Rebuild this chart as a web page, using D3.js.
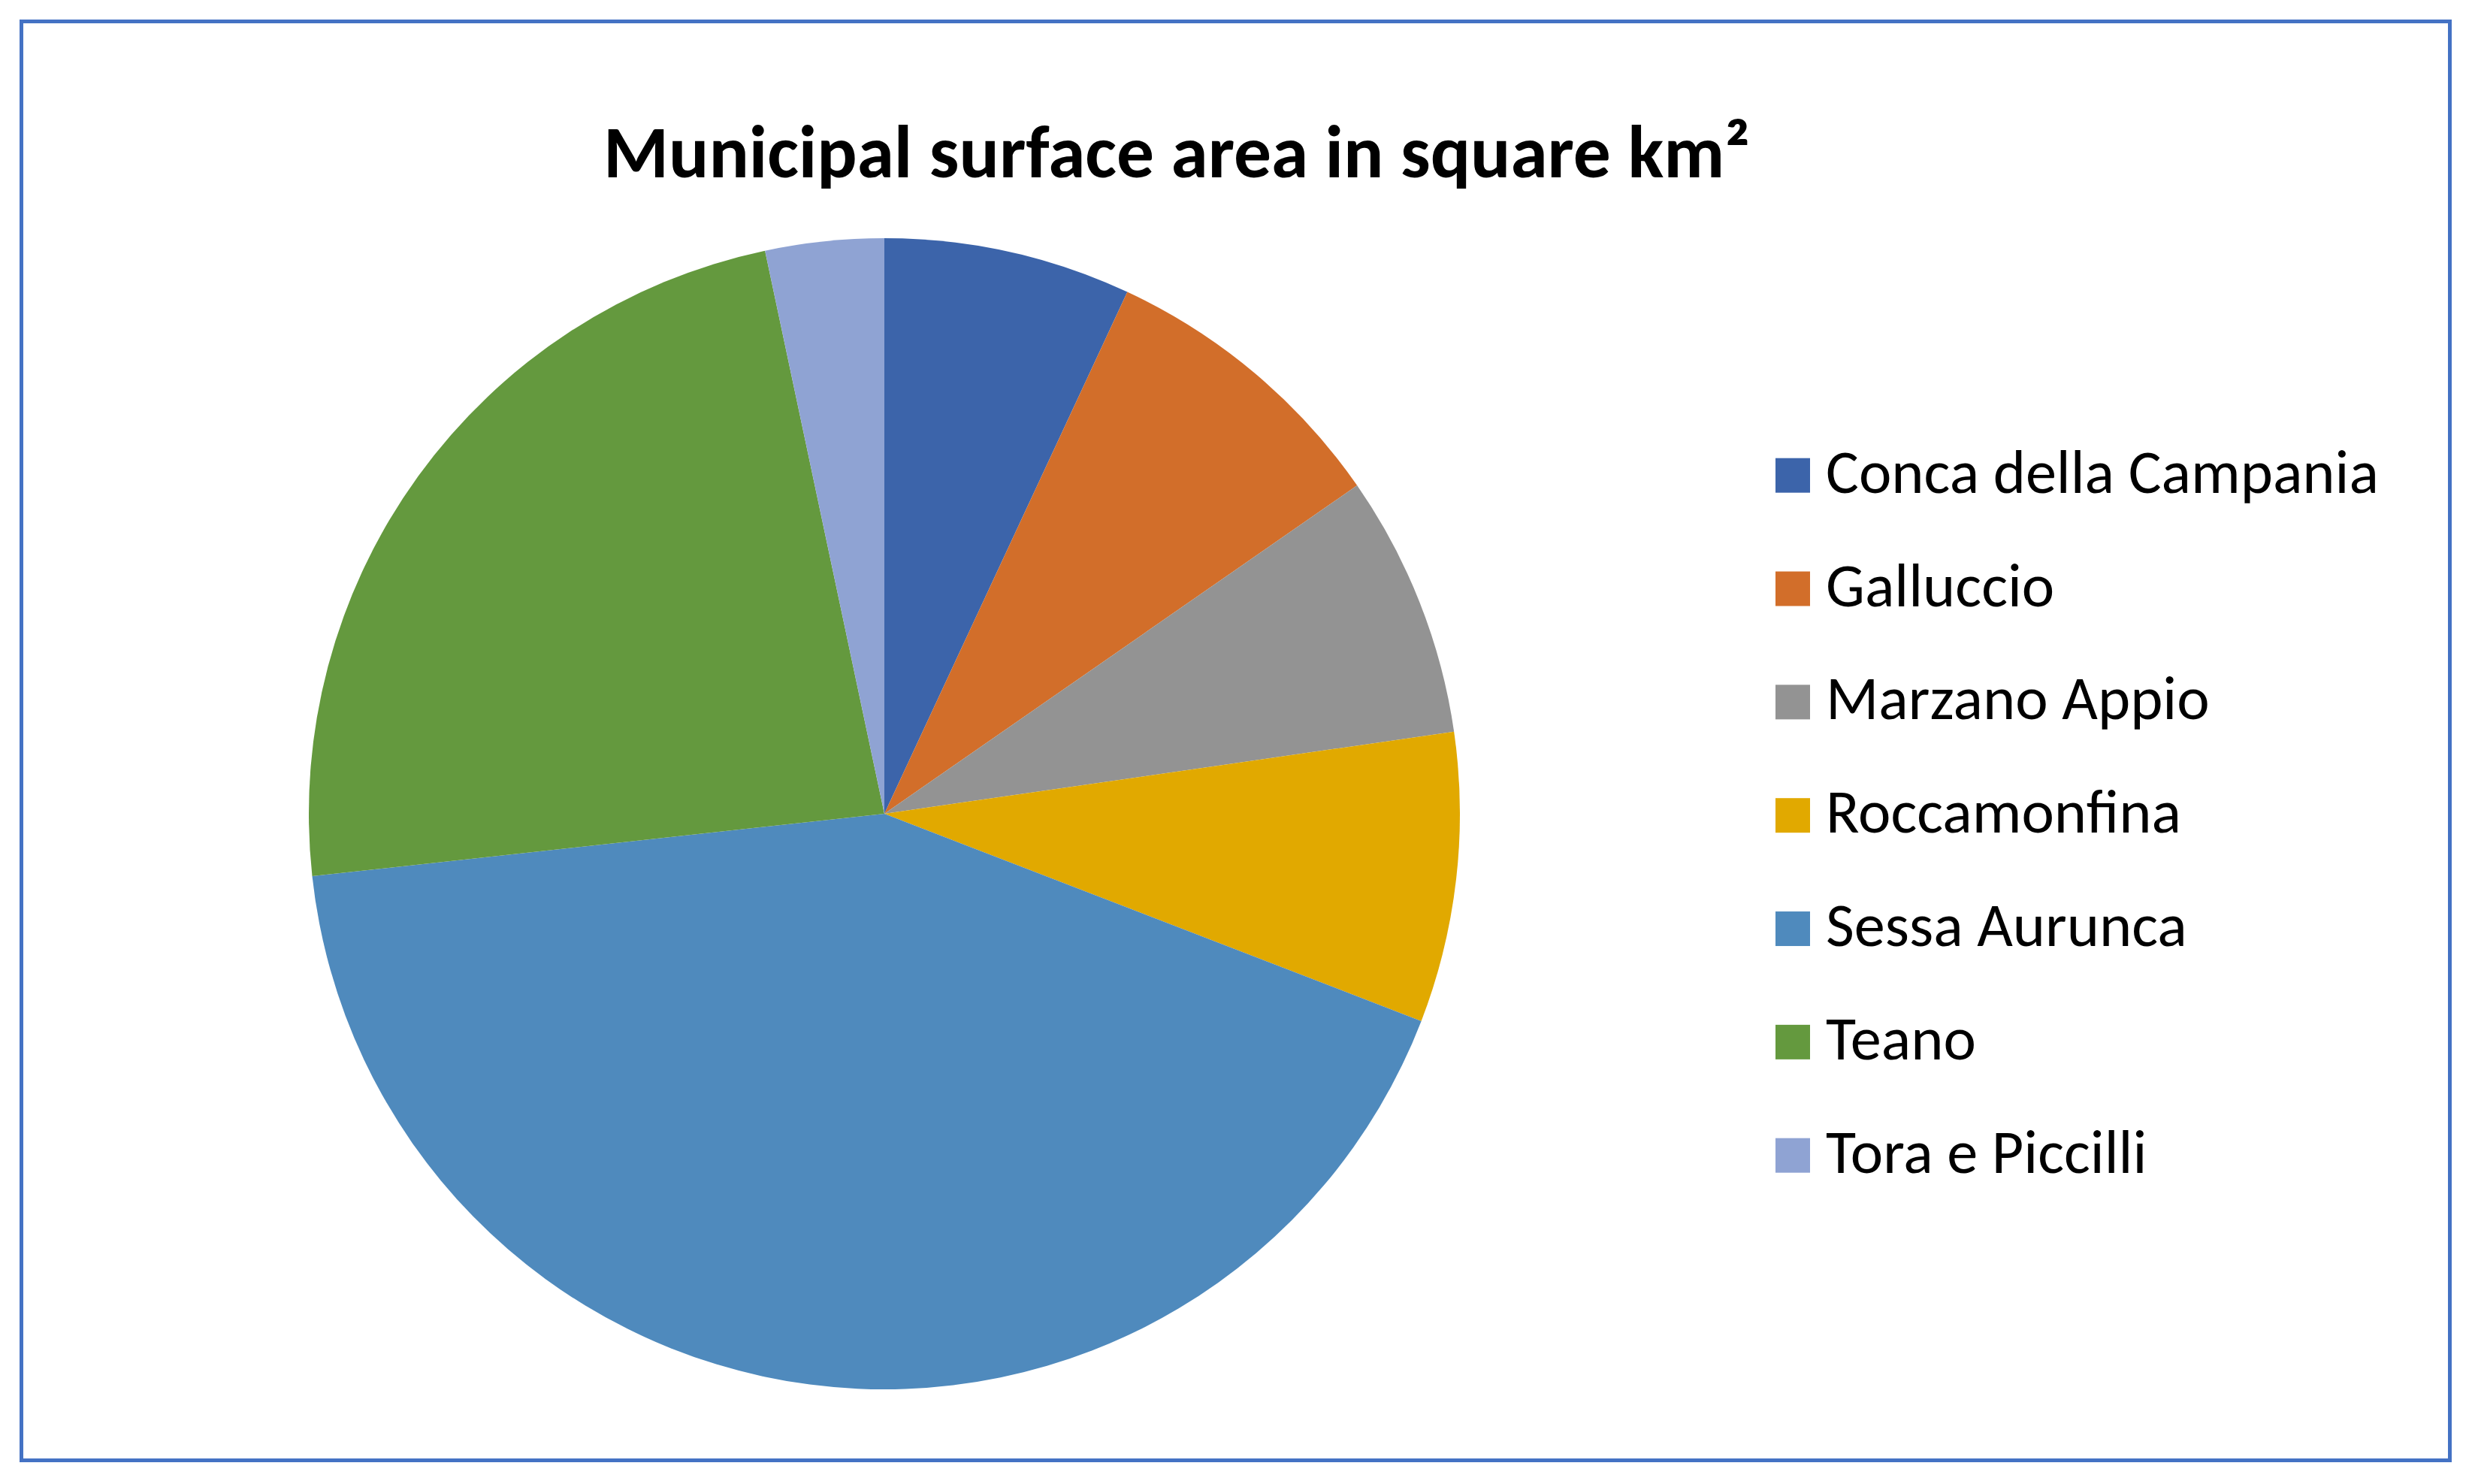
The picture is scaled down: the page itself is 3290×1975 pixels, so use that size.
<!DOCTYPE html>
<html>
<head>
<meta charset="utf-8">
<style>
  body { margin: 0; background: #fff; }
  svg text { font-family: Carlito, Calibri, Lato, "Open Sans", sans-serif; fill: #000; }
</style>
</head>
<body>
<svg id="chart" width="3290" height="1975"></svg>
<script src="https://cdn.jsdelivr.net/npm/d3@7"></script>
<script>
// municipal areas, km²
var towns = ["Conca della Campania", "Galluccio", "Marzano Appio", "Roccamonfina", "Sessa Aurunca", "Teano", "Tora e Piccilli"];
var areas = [26.5, 32.1, 28.2, 31.1, 162.0, 89.4, 12.7];
var colours = ["#3c64aa", "#d26e2a", "#939393", "#e1a900", "#4f8abd", "#64993e", "#8fa3d3"];
var title = "Municipal surface area in square km\u00b2";

var svg = d3.select("#chart");

// chart frame
svg.append("rect")
  .attr("x", 28.5).attr("y", 28.5)
  .attr("width", 3232).attr("height", 1915)
  .attr("fill", "#fff")
  .attr("stroke", "#4472c4")
  .attr("stroke-width", 5);

// title, sized so it spans the same width as the original
var t = svg.append("text")
  .attr("x", 803).attr("y", 236)
  .attr("font-weight", "bold")
  .attr("font-size", 96)
  .text(title);
var tw = t.node().getComputedTextLength();
t.attr("font-size", 96 * 1526 / tw);

// pie
var cx = 1177, cy = 1083, r = 766;
var pie = d3.pie().sort(null).value(function(d) { return d; });
var arc = d3.arc().innerRadius(0).outerRadius(r);
var colour = d3.scaleOrdinal().domain(towns).range(colours);

svg.append("g")
  .attr("transform", "translate(" + cx + "," + cy + ")")
  .selectAll("path")
  .data(pie(areas))
  .join("path")
  .attr("d", arc)
  .attr("fill", function(d, i) { return colour(towns[i]); });

// legend
var legY = d3.scalePoint().domain(towns).range([655.7, 1560.7]);
var leg = svg.append("g").selectAll("g")
  .data(towns)
  .join("g")
  .attr("transform", function(d) { return "translate(0," + legY(d) + ")"; });

leg.append("rect")
  .attr("x", 2363).attr("y", -46)
  .attr("width", 46).attr("height", 46)
  .attr("fill", function(d) { return colour(d); });

var labels = leg.append("text")
  .attr("x", 2430).attr("y", 0)
  .attr("font-size", 82)
  .text(function(d) { return d; });

// fit the longest label to its measured width (736px)
var lw = labels.nodes()[0].getComputedTextLength();
labels.attr("font-size", 82 * 736 / lw);
</script>
</body>
</html>
